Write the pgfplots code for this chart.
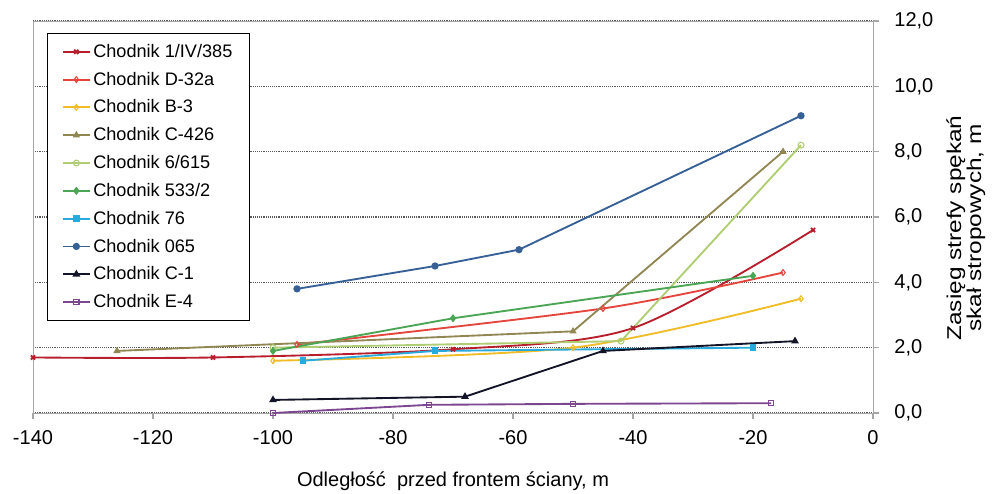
\documentclass[border=0pt]{standalone}
\usepackage{fontspec}
\setmainfont{Liberation Sans}
\usepackage{graphicx}
\usepackage{pgfplots}
\pgfplotsset{compat=1.18}
\definecolor{cA}{RGB}{185,30,45}
\definecolor{cB}{RGB}{228,70,62}
\definecolor{cC}{RGB}{240,188,40}
\definecolor{cD}{RGB}{145,135,85}
\definecolor{cE}{RGB}{175,205,115}
\definecolor{cF}{RGB}{75,165,85}
\definecolor{cG}{RGB}{40,170,220}
\definecolor{cH}{RGB}{55,96,150}
\definecolor{cI}{RGB}{20,20,40}
\definecolor{cJ}{RGB}{125,70,145}
\begin{document}
\begin{tikzpicture}
\useasboundingbox (-24.75pt,-60pt) rectangle (723.75pt,309.75pt);
\begin{axis}[
  scale only axis, width=630pt, height=294pt,
  xmin=-140, xmax=0, ymin=0, ymax=12,
  xtick={-140,-120,...,0}, ytick={0,2,...,12},
  xtick pos=left, ytick pos=right, yticklabel pos=right,
  tick align=outside, major tick length=4.5pt,
  axis line style={gray!70}, tick style={gray!70, line width=0.8pt},
  ymajorgrids, grid style={densely dotted, black!65, line width=0.9pt},
  /pgf/number format/assume math mode=true,
  ticklabel style={font=\fontsize{15}{18}\selectfont},
  xticklabel style={yshift=-5pt},
  yticklabel style={xshift=8pt},
  yticklabel={\pgfmathprintnumber[fixed,fixed zerofill,precision=1,use comma]{\tick}},
  xticklabel={\pgfmathprintnumber{\tick}},
  xlabel={Odległość\ \ przed frontem ściany, m},
  xlabel style={font=\fontsize{15}{18}\selectfont, at={(rel axis cs:0.5,0)}, anchor=center, yshift=-51pt},
  ylabel={\scalebox{1.22}[1]{\begin{tabular}{@{}c@{}}Zasięg strefy spękań\\[-3pt] skał stropowych, m\end{tabular}}},
  ylabel style={font=\fontsize{15}{18}\selectfont, at={(rel axis cs:1.111,0.472)}, anchor=center},
  clip=false,
  every axis plot/.append style={line width=1.4pt, mark size=2.2pt},
  legend cell align=left,
  legend image code/.code={\draw[mark repeat=2,mark phase=2] plot coordinates {(0pt,0pt) (10pt,0pt) (20pt,0pt)};},
  legend style={at={(rel axis cs:0.0167,0.969)}, anchor=north west, draw=black, line width=0.6pt,
    font=\fontsize{13.6}{14}\selectfont, row sep=5.5pt, inner xsep=11pt, inner ysep=6pt},
]
\addplot[cA, mark=x, smooth, mark options={solid}] coordinates {(-140,1.7) (-110,1.7) (-70,1.95) (-40,2.6) (-10,5.6)};
\addlegendentry{Chodnik 1/IV/385}
\addplot[cB, mark=diamond, smooth, mark options={fill=white, line width=0.8pt}] coordinates {(-96,2.1) (-45,3.2) (-15,4.3)};
\addlegendentry{Chodnik D-32a}
\addplot[cC, mark=diamond, smooth, mark options={fill=white, line width=0.8pt}] coordinates {(-100,1.6) (-50,2.0) (-12,3.5)};
\addlegendentry{Chodnik B-3}
\addplot[cD, mark=triangle*, mark size=1.8pt] coordinates {(-126,1.9) (-50,2.5) (-15,8.0)};
\addlegendentry{Chodnik C-426}
\addplot[cE, mark=o, mark options={fill=white, line width=0.8pt}] coordinates {(-100,2.0) (-42,2.2) (-12,8.2)};
\addlegendentry{Chodnik 6/615}
\addplot[cF, mark=diamond*, mark size=2pt] coordinates {(-100,1.9) (-70,2.9) (-20,4.2)};
\addlegendentry{Chodnik 533/2}
\addplot[cG, mark=square*, mark size=1.9pt] coordinates {(-95,1.6) (-73,1.9) (-20,2.0)};
\addlegendentry{Chodnik 76}
\addplot[cH, mark=*, mark size=2pt] coordinates {(-96,3.8) (-73,4.5) (-59,5.0) (-12,9.1)};
\addlegendentry{Chodnik 065}
\addplot[cI, mark=triangle*, mark size=2pt] coordinates {(-100,0.4) (-68,0.5) (-45,1.9) (-13,2.2)};
\addlegendentry{Chodnik C-1}
\addplot[cJ, mark=square, mark options={fill=white, line width=0.8pt}, mark size=2pt] coordinates {(-100,0.0) (-74,0.25) (-50,0.28) (-17,0.3)};
\addlegendentry{Chodnik E-4}
\end{axis}
\end{tikzpicture}
\end{document}
